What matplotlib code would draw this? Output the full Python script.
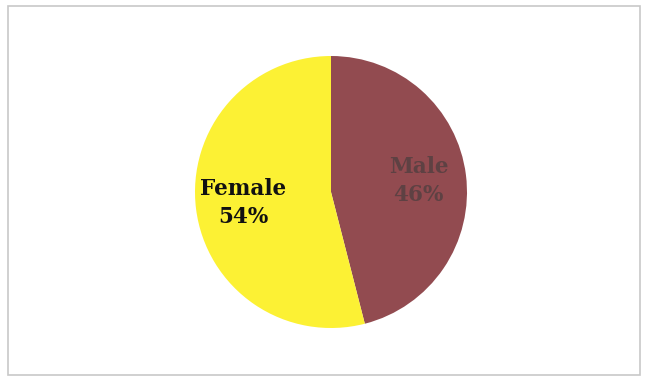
import matplotlib.pyplot as plt
from matplotlib.patches import Rectangle
import numpy as np

labels = ['Male', 'Female']
shares = [46, 54]
colors = ['#924b50', '#fcf134']
text_colors = ['#5e4143', '#111111']

fig = plt.figure(figsize=(6.5, 3.83), dpi=100)
ax = fig.add_axes([0, 0, 1, 1])

# outer chart frame
ax.add_patch(Rectangle((8, 8), 632, 369, fill=False, edgecolor='#c8c8c8', lw=1.2))

cx, cy, r = 331, 191, 136
wedges, _ = ax.pie(shares, colors=colors, startangle=90, counterclock=False,
                   center=(cx, cy), radius=r, frame=True,
                   wedgeprops=dict(linewidth=0))
ax.set_xlim(0, 650)
ax.set_ylim(0, 383)
ax.set_aspect('equal')
ax.axis('off')

for w, lab, val, tc in zip(wedges, labels, shares, text_colors):
    mid = np.deg2rad((w.theta1 + w.theta2) / 2)
    tx = cx + 0.65 * r * np.cos(mid)
    ty = cy + 0.65 * r * np.sin(mid)
    ax.text(tx, ty, f'{lab}\n{val}%', ha='center', va='center',
            fontsize=15.5, fontweight='bold', family='DejaVu Serif',
            color=tc, linespacing=1.35)

fig.savefig('out.png', dpi=100, facecolor='white')
